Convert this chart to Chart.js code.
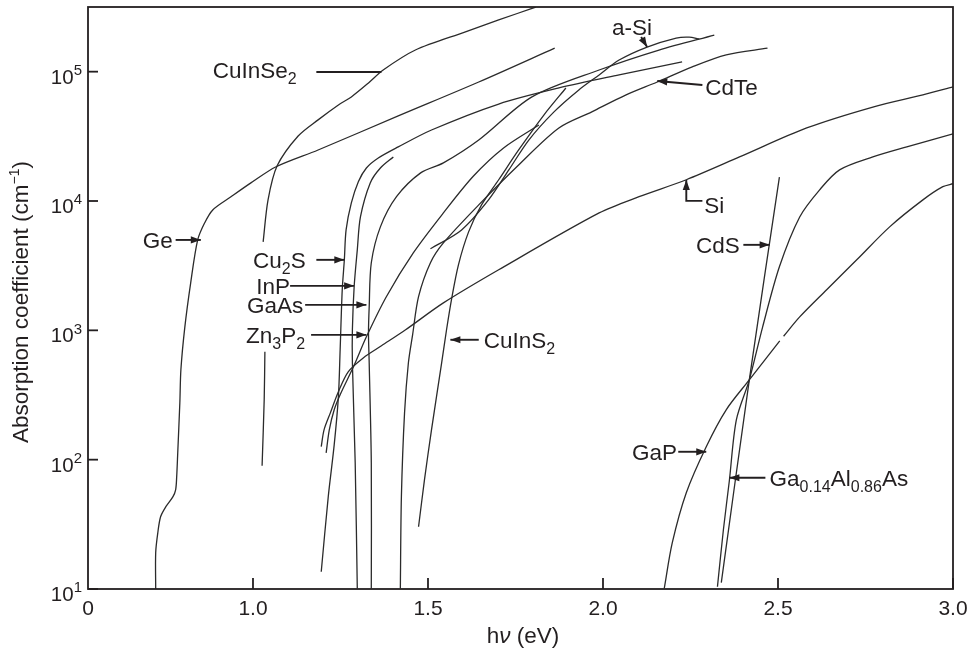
<!DOCTYPE html>
<html>
<head>
<meta charset="utf-8">
<script src="https://cdn.jsdelivr.net/npm/chart.js@4.4.1/dist/chart.umd.min.js"></script>
<style>
  html, body { margin: 0; padding: 0; background: #fff; }
  #wrap { width: 971px; height: 657px; }
</style>
</head>
<body>
<div id="wrap"><canvas id="myChart"></canvas></div>
<script>
// photon energy (eV), absorption coefficient (cm^-1)
const ge = [[0.722,10],[0.722,19.1],[0.728,27.2],[0.736,36.2],[0.751,43.3],[0.771,51.6],[0.779,58.5],[0.782,73.8],[0.785,113],[0.791,275],[0.794,495],[0.805,1045],[0.822,2330],[0.842,5000],[0.862,6780],[0.885,8530],[0.937,10770],[0.994,13800],[1.066,18400],[1.186,24800],[1.415,45500],[1.645,83200],[1.862,152000]];
const cuInSe2 = [[1.026,89.8],[1.032,290],[1.034,682],[1.033,null],[1.029,4830],[1.043,10200],[1.069,18700],[1.129,31800],[1.186,42400],[1.244,55300],[1.281,63800],[1.330,81800],[1.372,103000],[1.464,147000],[1.607,203000],[1.702,251000],[1.808,316000]];
const cu2S = [[1.195,13.6],[1.215,51.6],[1.232,130],[1.244,306],[1.249,707],[1.255,2060],[1.261,3510],[1.266,5980],[1.281,9660],[1.301,14100],[1.324,18000],[1.358,21500],[1.415,26200],[1.510,35400],[1.702,56200],[1.874,74800],[2.046,94400],[2.226,119000]];
const inP = [[1.298,10.1],[1.292,94.6],[1.284,561],[1.284,1010],[1.289,2170],[1.298,4190],[1.307,7530],[1.335,13800],[1.364,18000],[1.401,21900]];
const gaAs = [[1.338,10.1],[1.338,94.6],[1.332,561],[1.330,957],[1.332,1520],[1.338,3330],[1.364,6310],[1.410,10800],[1.479,16500],[1.544,19700],[1.645,29600],[1.797,63800],[1.989,103000],[2.160,147000],[2.318,192000]];
const zn3P2 = [[1.209,113],[1.218,170],[1.232,243],[1.249,318],[1.287,522],[1.324,891],[1.381,1820],[1.458,3970],[1.544,8090],[1.630,15600],[1.716,25700],[1.817,38700]];
const cuInS2 = [[1.473,30.3],[1.490,70],[1.510,170],[1.539,561],[1.553,1010],[1.567,1720],[1.587,3210],[1.616,5770],[1.653,9330],[1.702,14600],[1.759,24800],[1.831,46200],[1.894,74800]];
const aSi = [[1.507,4270],[1.596,5980],[1.673,10200],[1.731,17400],[1.788,29600],[1.860,48900],[1.931,72300],[1.989,94400],[2.046,123000],[2.126,155000],[2.209,182000],[2.246,185000],[2.275,179000]];
const cdTe = [[1.421,10.1],[1.424,51.6],[1.433,230],[1.444,561],[1.456,923],[1.473,1820],[1.507,3330],[1.544,4740],[1.645,9330],[1.759,19000],[1.874,36700],[1.968,48900],[2.066,66100],[2.155,83200],[2.255,109000],[2.352,135000],[2.470,152000]];
const si = [[1.195,126],[1.203,170],[1.221,230],[1.244,335],[1.272,478],[1.315,612],[1.367,759],[1.436,1010],[1.544,1630],[1.702,2940],[1.989,8090],[2.103,10800],[2.238,14600],[2.390,21900],[2.582,36700],[2.771,53300],[2.914,66100],[3.000,76200]];
const cdS = [[2.338,11.2],[2.418,414],[2.504,15300]];
const gaP = [[2.175,10.1],[2.198,22.8],[2.238,55.5],[2.295,126],[2.352,243],[2.418,414],[2.505,830],[2.510,null],[2.516,900],[2.562,1270],[2.639,2060],[2.725,3510],[2.819,6310],[2.914,10200],[2.971,12900],[3.000,13600]];
const gaAlAs = [[2.327,10.4],[2.344,28.7],[2.361,68.7],[2.381,203],[2.418,414],[2.456,1060],[2.504,3100],[2.562,7530],[2.619,12200],[2.676,17400],[2.771,21900],[2.868,26200],[3.000,33000]];

const curves = [ge, cuInSe2, cu2S, inP, gaAs, zn3P2, cuInS2, aSi, cdTe, si, cdS, gaP, gaAlAs];

const xTicks = [1.0, 1.5, 2.0, 2.5, 3.0];
const yTicks = [10, 100, 1000, 10000, 100000];

// labels: text anchor (eV, log10 alpha) and leader / arrow path
const notes = [
  { text: 'CuInSe_{2}', x: 0.885, lg: 5.013, path: [[1.181,4.998],[1.367,4.998]], head: false },
  { text: 'Ge', x: 0.685, lg: 3.699, path: [[0.779,3.699],[0.851,3.699]], head: true },
  { text: 'Cu_{2}S', x: 1.000, lg: 3.545, path: [[1.181,3.545],[1.261,3.545]], head: true },
  { text: 'InP', x: 1.009, lg: 3.344, path: [[1.106,3.344],[1.289,3.344]], head: true },
  { text: 'GaAs', x: 0.983, lg: 3.197, path: [[1.149,3.197],[1.324,3.197]], head: true },
  { text: 'Zn_{3}P_{2}', x: 0.980, lg: 2.965, path: [[1.166,2.965],[1.324,2.965]], head: true },
  { text: 'CuInS_{2}', x: 1.659, lg: 2.927, path: [[1.645,2.927],[1.564,2.927]], head: true },
  { text: 'a-Si', x: 2.026, lg: 5.345, path: [[2.109,5.268],[2.126,5.191]], head: true },
  { text: 'CdTe', x: 2.292, lg: 4.882, path: [[2.284,4.897],[2.155,4.928]], head: true },
  { text: 'Si', x: 2.289, lg: 3.970, path: [[2.284,4.001],[2.238,4.001],[2.238,4.163]], head: true },
  { text: 'CdS', x: 2.266, lg: 3.661, path: [[2.401,3.661],[2.476,3.661]], head: true },
  { text: 'GaP', x: 2.083, lg: 2.061, path: [[2.215,2.061],[2.295,2.061]], head: true },
  { text: 'Ga_{0.14}Al_{0.86}As', x: 2.476, lg: 1.860, path: [[2.464,1.860],[2.361,1.860]], head: true }
];

const FONT = '"Liberation Sans", Arial, Helvetica, sans-serif';
const INK = '#231f20';

// text with _{sub} and ^{sup} pieces
function drawRich(ctx, s, x, y, size, align, subSize) {
  const parts = [];
  const re = /_\{([^}]*)\}|\^\{([^}]*)\}|([^_^]+)/g;
  let m;
  while ((m = re.exec(s))) {
    if (m[1] !== undefined) parts.push({ t: m[1], k: 'sub' });
    else if (m[2] !== undefined) parts.push({ t: m[2], k: 'sup' });
    else parts.push({ t: m[3], k: 'n' });
  }
  const small = subSize || Math.round(size * 0.7);
  const fontFor = k => (k === 'n' ? size : small) + 'px ' + FONT;
  let w = 0;
  parts.forEach(p => { ctx.font = fontFor(p.k); p.w = ctx.measureText(p.t).width; w += p.w; });
  let cx = align === 'right' ? x - w : align === 'center' ? x - w / 2 : x;
  ctx.textAlign = 'left';
  ctx.textBaseline = 'alphabetic';
  parts.forEach(p => {
    ctx.font = fontFor(p.k);
    const dy = p.k === 'sub' ? size * 0.28 : p.k === 'sup' ? -size * 0.42 : 0;
    ctx.fillText(p.t, cx, y + dy);
    cx += p.w;
  });
  return w;
}

function arrowHead(ctx, x1, y1, x2, y2) {
  const a = Math.atan2(y2 - y1, x2 - x1), L = 10, W = 3.6;
  ctx.beginPath();
  ctx.moveTo(x2, y2);
  ctx.lineTo(x2 - L * Math.cos(a) + W * Math.sin(a), y2 - L * Math.sin(a) - W * Math.cos(a));
  ctx.lineTo(x2 - L * Math.cos(a) - W * Math.sin(a), y2 - L * Math.sin(a) + W * Math.cos(a));
  ctx.closePath();
  ctx.fill();
}

const decorations = {
  id: 'decorations',
  afterDatasetsDraw(chart) {
    const ctx = chart.ctx;
    const a = chart.chartArea;
    const xs = chart.scales.x, ys = chart.scales.y;
    const px = e => xs.getPixelForValue(e);
    const py = lg => ys.getPixelForValue(Math.pow(10, lg));
    ctx.save();
    ctx.strokeStyle = INK;
    ctx.fillStyle = INK;

    // frame
    ctx.lineWidth = 1.8;
    ctx.strokeRect(a.left, a.top, a.right - a.left, a.bottom - a.top);

    // inward ticks
    xTicks.forEach(v => {
      const x = xs.getPixelForValue(v);
      ctx.beginPath(); ctx.moveTo(x, a.bottom); ctx.lineTo(x, a.bottom - 11); ctx.stroke();
    });
    yTicks.forEach(v => {
      const y = ys.getPixelForValue(v);
      ctx.beginPath(); ctx.moveTo(a.left, y); ctx.lineTo(a.left + 10, y); ctx.stroke();
    });

    // tick labels
    ctx.font = '21px ' + FONT;
    ctx.textAlign = 'center';
    ctx.textBaseline = 'alphabetic';
    ctx.fillText('0', a.left, a.bottom + 26);
    xTicks.forEach(v => ctx.fillText(v.toFixed(1), xs.getPixelForValue(v), a.bottom + 26));
    yTicks.forEach(v => {
      const y = ys.getPixelForValue(v);
      drawRich(ctx, '10^{' + Math.round(Math.log10(v)) + '}', a.left - 6, y + 12, 20.5, 'right', 15);
    });

    // axis titles
    ctx.save();
    ctx.translate(28, 302);
    ctx.rotate(-Math.PI / 2);
    drawRich(ctx, 'Absorption coefficient (cm^{\u22121})', 0, 0, 22.5, 'center', 14);
    ctx.restore();

    ctx.textAlign = 'left';
    const parts = [['h', '22.5px ' + FONT], ['\u03bd', 'italic 22.5px ' + FONT], [' (eV)', '22.5px ' + FONT]];
    let tw = 0;
    parts.forEach(p => { ctx.font = p[1]; tw += ctx.measureText(p[0]).width; });
    let cx = 523 - tw / 2;
    parts.forEach(p => { ctx.font = p[1]; ctx.fillText(p[0], cx, 643); cx += ctx.measureText(p[0]).width; });

    // material labels with arrows
    ctx.lineWidth = 1.9;
    notes.forEach(n => {
      drawRich(ctx, n.text, px(n.x), py(n.lg) + 8, 22.5, 'left', 16);
      const pts = n.path.map(p => [px(p[0]), py(p[1])]);
      ctx.beginPath();
      pts.forEach((p, i) => i ? ctx.lineTo(p[0], p[1]) : ctx.moveTo(p[0], p[1]));
      ctx.stroke();
      if (n.head) {
        const p1 = pts[pts.length - 2], p2 = pts[pts.length - 1];
        arrowHead(ctx, p1[0], p1[1], p2[0], p2[1]);
      }
    });
    ctx.restore();
  }
};

const config = {
  type: 'scatter',
  data: {
    datasets: curves.map(c => ({
      data: c.map(p => ({ x: p[0], y: p[1] })),
      showLine: true,
      borderColor: '#2b2b2b',
      borderWidth: 1.3,
      pointRadius: 0,
      tension: 0.3,
      spanGaps: false,
      fill: false
    }))
  },
  options: {
    responsive: true,
    maintainAspectRatio: false,
    animation: false,
    layout: { padding: { left: 88, right: 18, top: 7, bottom: 68 } },
    scales: {
      x: { type: 'linear', min: 0.5286, max: 3.0, display: false },
      y: { type: 'logarithmic', min: 10, max: Math.pow(10, 5.5), display: false }
    },
    plugins: { legend: { display: false }, tooltip: { enabled: false } }
  },
  plugins: [decorations]
};

new Chart(document.getElementById('myChart'), config);
</script>
</body>
</html>
